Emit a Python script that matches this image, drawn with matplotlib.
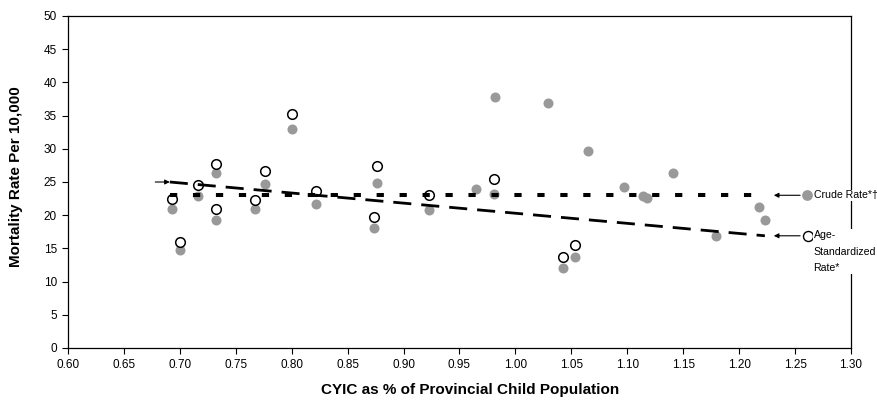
import numpy as np
import matplotlib
matplotlib.use('Agg')
import matplotlib.pyplot as plt

plt.rcParams['font.family'] = ['Liberation Sans', 'DejaVu Sans']

# CYIC as % of provincial child population, with both rates
x_pair = [0.693, 0.700, 0.7165, 0.7326, 0.7326, 0.767, 0.776, 0.8005, 0.822,
          0.8733, 0.876, 0.923, 0.981, 1.0428, 1.053]
age_pair = [22.5, 15.9, 24.5, 27.7, 20.9, 22.3, 26.6, 35.2, 23.7,
            19.7, 27.4, 23.0, 25.4, 13.75, 15.5]
crude_pair = [21.0, 14.8, 22.9, 26.3, 19.3, 20.9, 24.7, 33.0, 21.7,
              18.0, 24.8, 20.8, 23.2, 12.0, 13.75]

# crude rate only
x_crude = [0.9645, 0.9817, 1.0294, 1.0646, 1.0968, 1.1138, 1.118, 1.1409,
           1.1796, 1.218, 1.2231]
crude_only = [23.9, 37.8, 36.9, 29.6, 24.2, 22.9, 22.6, 26.4, 16.9, 21.3, 19.3]

# trend lines
trend_x = [0.691, 1.223]
crude_trend = [23.0, 23.0]
age_trend = [25.0, 16.9]

xticks = np.arange(0.60, 1.301, 0.05)
yticks = np.arange(0, 51, 5)

grey = '#999999'

fig = plt.figure(figsize=(8.78, 4.04), dpi=100)
ax = fig.add_axes([68/878, 56/404, 783/878, 332/404])

ax.scatter(x_pair + x_crude, crude_pair + crude_only, s=52, color=grey,
           linewidths=0, zorder=2)
ax.scatter(x_pair, age_pair, s=48, facecolor='white', edgecolor='black',
           linewidths=1.1, zorder=3)

ax.plot(trend_x, crude_trend, color='black', lw=2.9, dashes=(1.8, 3.9),
        dash_capstyle='butt', zorder=4)
ax.plot(trend_x, age_trend, color='black', lw=2.0, dashes=(6.5, 3.6),
        dash_capstyle='butt', zorder=4)

# legend built as labelled markers with arrows
ax.scatter([1.261], [crude_trend[1]], s=60, color=grey, linewidths=0, zorder=5)
ax.scatter([1.262], [age_trend[1]], s=52, facecolor='white',
           edgecolor='black', linewidths=1.0, zorder=5)
arrow = dict(arrowstyle='-|>', color='black', lw=0.8, mutation_scale=7,
             shrinkA=0, shrinkB=0)
ax.annotate('', xy=(trend_x[1] + 0.008, crude_trend[1]),
            xytext=(1.2545, crude_trend[1]), arrowprops=arrow)
ax.annotate('', xy=(trend_x[1] + 0.008, age_trend[1]),
            xytext=(1.2545, age_trend[1]), arrowprops=arrow)
ax.annotate('', xy=(trend_x[0], age_trend[0]),
            xytext=(0.678, age_trend[0]), arrowprops=arrow)

box = dict(facecolor='white', edgecolor='none', pad=0.3)
ax.text(1.2665, crude_trend[1], 'Crude Rate*\u2020', fontsize=7.6,
        va='center', ha='left', bbox=box, clip_on=False, zorder=6)
ax.text(1.2665, age_trend[1] + 0.9, 'Age-\nStandardized\nRate*', fontsize=7.6,
        va='top', ha='left', linespacing=1.85, bbox=box, clip_on=False,
        zorder=6)

ax.set_xlim(0.60, 1.30)
ax.set_ylim(0, 50)
ax.set_xticks(xticks)
ax.set_xticklabels(['%.2f' % t for t in xticks])
ax.set_yticks(yticks)
ax.tick_params(direction='out', length=4, width=0.8, labelsize=8.5, pad=4)
for s in ax.spines.values():
    s.set_linewidth(0.9)

fig.text(470/878, 1 - 390/404, 'CYIC as % of Provincial Child Population',
         fontsize=11, fontweight='bold', ha='center', va='center')
fig.text(16/878, 1 - 177/404, 'Mortality Rate Per 10,000', fontsize=11,
         fontweight='bold', ha='center', va='center', rotation=90)

fig.savefig('out.png', dpi=100)
